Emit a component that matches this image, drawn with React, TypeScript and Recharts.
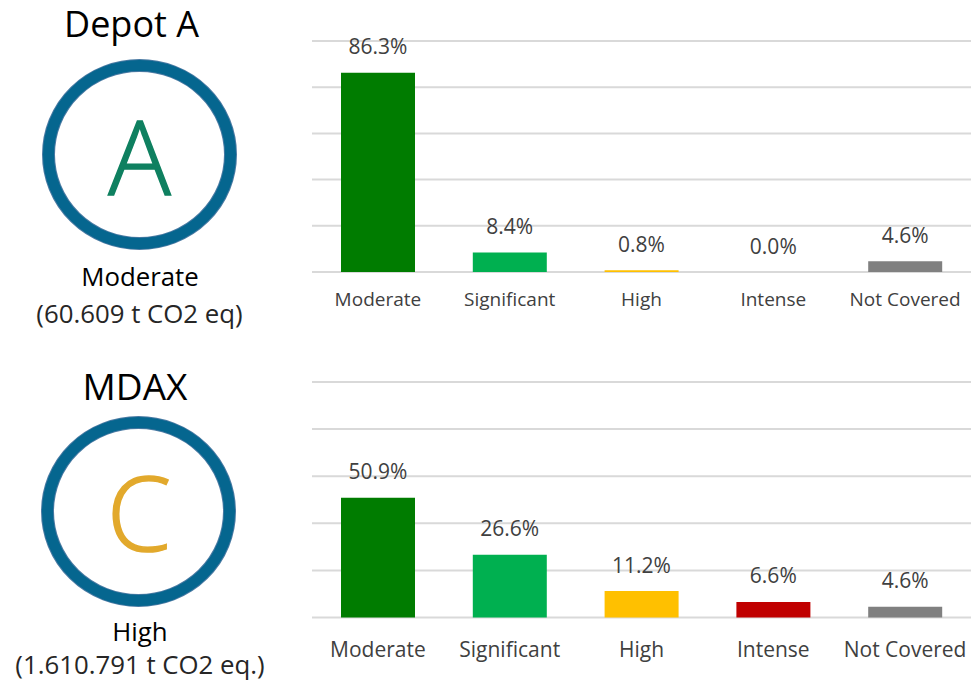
import React from "react";
import { ComposedChart, Bar, Line, XAxis, YAxis, CartesianGrid, Cell, LabelList } from "recharts";

const categories = ["Moderate", "Significant", "High", "Intense", "Not Covered"];
const depotValues = [86.3, 8.4, 0.8, 0.0, 4.6];
const mdaxValues = [50.9, 26.6, 11.2, 6.6, 4.6];
const barColors = ["#007c00", "#00b050", "#ffc000", "#c00000", "#808080"];
const yTicks = [0, 20, 40, 60, 80, 100];

const FONT = "'Open Sans', sans-serif";

function toRows(values: number[]) {
  return categories.map((name, i) => ({ name, value: values[i] }));
}

function RatingChart({ values, top, plotHeight, fontSize, tickMargin, labelOffset }: { values: number[]; top: number; plotHeight: number; fontSize: number; tickMargin: number; labelOffset: number }) {
  return (
    <div style={{ position: "absolute", left: 312, top }}>
      <ComposedChart
        width={659}
        height={plotHeight + 70}
        data={toRows(values)}
        margin={{ top: 20, right: 0, bottom: 0, left: 0 }}
        barCategoryGap="0%"
      >
        <CartesianGrid vertical={false} stroke="#d9d9d9" strokeWidth={2} />
        <XAxis
          dataKey="name"
          interval={0}
          axisLine={false}
          tickLine={false}
          height={50}
          tickMargin={tickMargin}
          tick={{ fill: "#404040", fontSize, fontFamily: FONT }}
        />
        <YAxis hide domain={[0, 100]} ticks={yTicks} />
        <Bar dataKey="value" barSize={74} isAnimationActive={false}>
          {values.map((_, i) => (
            <Cell key={i} fill={barColors[i]} />
          ))}
        </Bar>
        <Line dataKey="value" stroke="none" dot={false} activeDot={false} isAnimationActive={false}>
          <LabelList
            dataKey="value"
            position="top"
            offset={labelOffset}
            formatter={(v: number) => `${v.toFixed(1)}%`}
            style={{ fill: "#404040", fontSize: 21, fontFamily: FONT }}
          />
        </Line>
      </ComposedChart>
    </div>
  );
}

function Txt({ cx, cy, size, color, weight, outline, children }: { cx: number; cy: number; size: number; color: string; weight?: number; outline?: number; children: React.ReactNode }) {
  const boxHeight = size * 1.1;
  return (
    <div
      style={{
        position: "absolute",
        left: cx - 200,
        top: cy - boxHeight / 2,
        width: 400,
        height: boxHeight,
        lineHeight: `${boxHeight}px`,
        textAlign: "center",
        fontFamily: FONT,
        fontSize: size,
        color,
        fontWeight: weight ?? 400,
        whiteSpace: "nowrap",
        WebkitTextStroke: outline ? `${outline}px ${color}` : undefined,
      }}
    >
      {children}
    </div>
  );
}

function Ring({ cx, cy }: { cx: number; cy: number }) {
  return (
    <svg style={{ position: "absolute", left: 0, top: 0 }} width={300} height={682}>
      <ellipse cx={cx} cy={cy} rx={91} ry={89} fill="#ffffff" stroke="#4a7aa3" strokeWidth={13} />
      <ellipse cx={cx} cy={cy} rx={91} ry={89} fill="none" stroke="#05668f" strokeWidth={11} />
    </svg>
  );
}

export default function App() {
  return (
    <div style={{ position: "absolute", left: 0, top: 0, width: 971, height: 682, background: "#ffffff", overflow: "hidden" }}>
      <RatingChart values={depotValues} top={21} plotHeight={231} fontSize={19} tickMargin={15} labelOffset={18.5} />
      <RatingChart values={mdaxValues} top={362} plotHeight={235.5} fontSize={21} tickMargin={19} labelOffset={18.5} />

      <Ring cx={139.5} cy={154.5} />
      <Ring cx={138.5} cy={511.5} />

      <Txt cx={131.5} cy={24} size={36} color="#000000">Depot A</Txt>
      <Txt cx={139.5} cy={155} size={104} color="#0f8060" weight={300} outline={1.5}>A</Txt>
      <Txt cx={140} cy={276.5} size={25.8} color="#000000">Moderate</Txt>
      <Txt cx={139.5} cy={313} size={25.8} color="#262626">(60.609 t CO2 eq)</Txt>

      <Txt cx={135} cy={386} size={37} color="#000000">MDAX</Txt>
      <Txt cx={139} cy={511} size={104} color="#e2a92c" weight={300} outline={1.5}>C</Txt>
      <Txt cx={140} cy={631.5} size={25.8} color="#000000">High</Txt>
      <Txt cx={140} cy={664} size={25.8} color="#262626">(1.610.791 t CO2 eq.)</Txt>
    </div>
  );
}
